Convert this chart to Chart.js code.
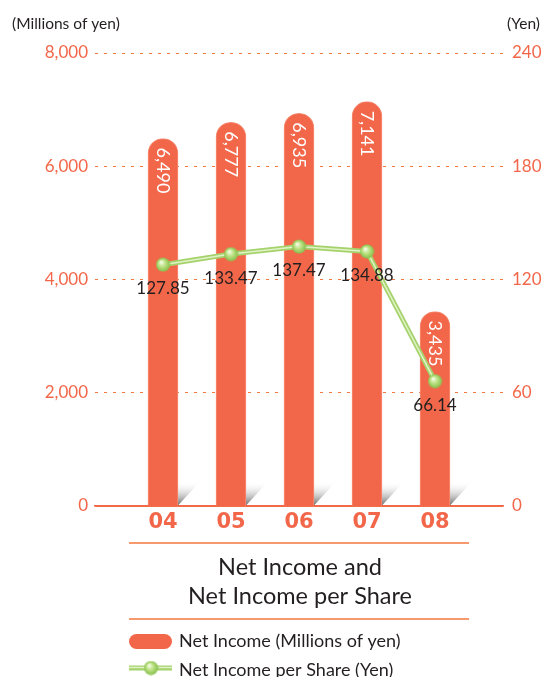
<!DOCTYPE html>
<html>
<head>
<meta charset="utf-8">
<script src="https://cdn.jsdelivr.net/npm/chart.js@4"></script>
<style>
  body { margin: 0; background: #fff; }
  canvas { display: block; }
</style>
</head>
<body>
<canvas id="myChart" width="544" height="677"></canvas>
<script>
'use strict';

var years = ['04', '05', '06', '07', '08'];
var netIncome = [6490, 6777, 6935, 7141, 3435];
var perShare = [127.85, 133.47, 137.47, 134.88, 66.14];
var incomeTicks = [0, 2000, 4000, 6000, 8000];
var shareTicks = [0, 60, 120, 180, 240];

var ORANGE = '#f2674a';
var DASH = '#f4773f';
var INK = '#231f20';
var FONT = 'Lato, "Open Sans", sans-serif';

// small shaded ball used for the line points and the legend icon
function makeBall(r) {
    var c = document.createElement('canvas');
    c.width = c.height = r * 2 + 1;
    var g = c.getContext('2d');
    var grad = g.createRadialGradient(r * 0.8, r * 0.7, 0.5, r + 0.5, r + 0.5, r);
    grad.addColorStop(0, '#f6fde9');
    grad.addColorStop(0.45, '#bfe387');
    grad.addColorStop(1, '#86bf4b');
    g.fillStyle = grad;
    g.beginPath();
    g.arc(r + 0.5, r + 0.5, r, 0, Math.PI * 2);
    g.fill();
    return c;
}
var ball = makeBall(7);

function fmt(v) {
    return v.toLocaleString('en-US');
}

// grey fold under the right edge of each bar
var barShadow = {
    id: 'barShadow',
    beforeDatasetsDraw: function(chart) {
        var ctx = chart.ctx;
        chart.getDatasetMeta(0).data.forEach(function(bar) {
            var right = bar.x + bar.width / 2;
            var base = bar.base;
            var g = ctx.createLinearGradient(0, base - 24, 0, base);
            g.addColorStop(0, 'rgba(255,255,255,0)');
            g.addColorStop(1, '#6a6a6a');
            ctx.save();
            ctx.fillStyle = g;
            ctx.beginPath();
            ctx.moveTo(right, base - 24);
            ctx.lineTo(right + 22, base - 24);
            ctx.lineTo(right, base);
            ctx.closePath();
            ctx.fill();
            ctx.restore();
        });
    }
};

var valueLabels = {
    id: 'valueLabels',
    afterDatasetDraw: function(chart, args) {
        if (args.index !== 0) return;
        var ctx = chart.ctx;
        ctx.save();
        ctx.fillStyle = '#fff';
        ctx.font = '18px ' + FONT;
        ctx.textAlign = 'left';
        ctx.textBaseline = 'middle';
        args.meta.data.forEach(function(bar, i) {
            ctx.save();
            ctx.translate(bar.x, bar.y + 9);
            ctx.rotate(Math.PI / 2);
            ctx.fillText(fmt(netIncome[i]), 0, 0);
            ctx.restore();
        });
        ctx.restore();
    },
    afterDatasetsDraw: function(chart) {
        var ctx = chart.ctx;
        ctx.save();
        ctx.fillStyle = INK;
        ctx.font = '17px ' + FONT;
        ctx.textAlign = 'center';
        ctx.textBaseline = 'middle';
        chart.getDatasetMeta(2).data.forEach(function(pt, i) {
            ctx.fillText(perShare[i].toFixed(2), pt.x, pt.y + 24);
        });
        ctx.restore();
    }
};

// unit captions, title block and legend
var captions = {
    id: 'captions',
    afterDraw: function(chart) {
        var ctx = chart.ctx;
        ctx.save();
        ctx.fillStyle = INK;
        ctx.textBaseline = 'middle';
        ctx.font = '15.5px ' + FONT;
        ctx.textAlign = 'left';
        ctx.fillText('(Millions of yen)', 12, 24);
        ctx.textAlign = 'right';
        ctx.fillText('(Yen)', 540, 24);

        ctx.strokeStyle = DASH;
        ctx.lineWidth = 1.5;
        [543, 619].forEach(function(y) {
            ctx.beginPath();
            ctx.moveTo(129, y);
            ctx.lineTo(469, y);
            ctx.stroke();
        });

        ctx.textAlign = 'center';
        ctx.font = '23.5px ' + FONT;
        ctx.fillText('Net Income and', 300, 567);
        ctx.fillText('Net Income per Share', 300, 596);

        // legend
        ctx.fillStyle = ORANGE;
        ctx.beginPath();
        ctx.roundRect(129, 634, 43, 15, 7.5);
        ctx.fill();

        ctx.lineCap = 'butt';
        ctx.strokeStyle = '#a5d26c';
        ctx.lineWidth = 5;
        ctx.beginPath();
        ctx.moveTo(129, 668);
        ctx.lineTo(172, 668);
        ctx.stroke();
        ctx.strokeStyle = '#e0f3c6';
        ctx.lineWidth = 1.5;
        ctx.beginPath();
        ctx.moveTo(129, 667.5);
        ctx.lineTo(172, 667.5);
        ctx.stroke();
        ctx.drawImage(ball, 151 - 7.5, 668 - 7.5);

        ctx.fillStyle = INK;
        ctx.textAlign = 'left';
        ctx.font = '18px ' + FONT;
        ctx.fillText('Net Income (Millions of yen)', 179, 641);
        ctx.fillText('Net Income per Share (Yen)', 179, 670);
        ctx.restore();
    }
};

function draw() {
    var ctx = document.getElementById('myChart');
    var barData = netIncome.map(function(v, i) { return { x: i, y: v }; });
    var lineData = perShare.map(function(v, i) { return { x: i, y: v }; });

    new Chart(ctx, {
        type: 'bar',
        data: {
            datasets: [{
                label: 'Net Income (Millions of yen)',
                data: barData,
                yAxisID: 'y',
                backgroundColor: ORANGE,
                borderColor: '#f68f77',
                borderWidth: 1,
                borderRadius: 15,
                borderSkipped: 'start',
                barThickness: 30,
                order: 3
            }, {
                type: 'line',
                label: 'Net Income per Share (Yen)',
                data: lineData,
                yAxisID: 'y1',
                borderColor: '#a5d26c',
                borderWidth: 5,
                pointRadius: 0,
                order: 2
            }, {
                type: 'line',
                data: lineData,
                yAxisID: 'y1',
                borderColor: '#e0f3c6',
                borderWidth: 1.5,
                pointStyle: ball,
                pointRadius: 7,
                order: 1
            }]
        },
        options: {
            responsive: false,
            animation: false,
            events: [],
            layout: { padding: { top: 53, bottom: 131, left: 0, right: 0 } },
            plugins: {
                legend: { display: false },
                tooltip: { enabled: false },
                title: { display: false }
            },
            scales: {
                x: {
                    type: 'linear',
                    offset: false,
                    min: -1,
                    max: 5,
                    afterBuildTicks: function(scale) {
                        scale.ticks = years.map(function(y, i) { return { value: i }; });
                    },
                    afterFit: function(scale) { scale.height = 40; },
                    grid: { display: false, drawTicks: false },
                    border: { display: true, color: ORANGE, width: 1.5 },
                    ticks: {
                        padding: 4,
                        color: ORANGE,
                        font: { family: '"DejaVu Sans"', size: 21, weight: 'bold' },
                        callback: function(v) { return years[v]; }
                    }
                },
                y: {
                    position: 'left',
                    min: 0,
                    max: 8000,
                    afterBuildTicks: function(scale) {
                        scale.ticks = incomeTicks.map(function(v) { return { value: v }; });
                    },
                    afterFit: function(scale) { scale.width = 95; },
                    grid: { color: DASH, lineWidth: 1, drawTicks: false },
                    border: {
                        display: false,
                        dash: function(c) { return c.tick && c.tick.value === 0 ? [] : [3, 6]; }
                    },
                    ticks: {
                        padding: 7,
                        color: ORANGE,
                        font: { family: FONT, size: 17 },
                        callback: function(v) { return fmt(v); }
                    }
                },
                y1: {
                    position: 'right',
                    min: 0,
                    max: 240,
                    afterBuildTicks: function(scale) {
                        scale.ticks = shareTicks.map(function(v) { return { value: v }; });
                    },
                    afterFit: function(scale) { scale.width = 41; },
                    grid: { display: false, drawTicks: false },
                    border: { display: false },
                    ticks: {
                        padding: 9,
                        color: ORANGE,
                        font: { family: FONT, size: 17 }
                    }
                }
            }
        },
        plugins: [barShadow, valueLabels, captions]
    });
}

Promise.all([
    document.fonts.load('17px Lato'),
    document.fonts.load('bold 21px "DejaVu Sans"')
]).then(draw, draw);
</script>
</body>
</html>
